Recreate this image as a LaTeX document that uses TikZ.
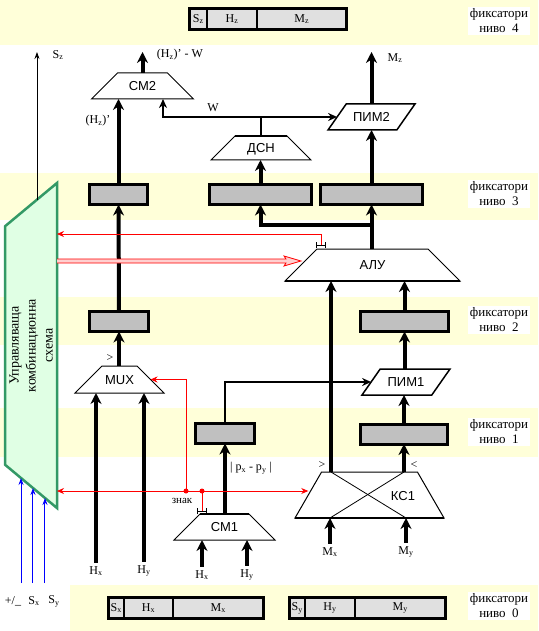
\documentclass[tikz,border=0pt]{standalone}
\usepackage{fontspec}
\setmainfont{Liberation Serif}
\newfontfamily\bezserif{Liberation Sans}
\usepackage{tikz}
\usetikzlibrary{arrows.meta,shapes.geometric,calc,positioning,fit}
\definecolor{pojas}{RGB}{255,255,217}
\definecolor{sivo}{RGB}{192,192,192}
\definecolor{svetlosivo}{RGB}{224,224,224}
\definecolor{zeleno}{RGB}{224,255,228}
\definecolor{zelenoram}{RGB}{51,153,102}
\definecolor{rozovo}{RGB}{255,208,208}
\tikzset{
	every node/.style={
		font=\fontsize{12}{13}\selectfont
	},
	fiksator/.style={
		shape=rectangle,
		draw,
		line width=3pt,
		fill=sivo,
		inner sep=0pt,
		outer sep=0pt,
		minimum height=20pt
	},
	pole/.style={
		shape=rectangle,
		draw,
		line width=1.5pt,
		fill=svetlosivo,
		inner sep=0pt,
		outer sep=0pt,
		minimum height=21pt
	},
	ramka/.style={
		draw,
		line width=3pt,
		inner sep=0pt
	},
	nivo/.style={
		fill=white,
		align=center,
		inner sep=2pt,
		minimum width=60pt,
		font=\fontsize{13}{15}\selectfont
	},
	blok/.style={
		shape=trapezium,
		trapezium left angle=45,
		trapezium right angle=45,
		trapezium stretches body=true,
		draw,
		fill=white,
		line width=1pt,
		inner sep=0pt,
		outer sep=0pt,
		font=\bezserif\fontsize{13}{14}\selectfont
	},
	vis/.style 2 args={
		text height=#1,
		text depth=#2
	},
	pim/.style={
		blok,
		trapezium left angle=55,
		trapezium right angle=125,
		line width=1.5pt
	},
	upravlenie/.style={
		shape=trapezium,
		trapezium left angle=45,
		trapezium right angle=45,
		trapezium stretches body=true,
		rotate=90,
		draw=zelenoram,
		fill=zeleno,
		line width=2.5pt,
		inner sep=0pt,
		outer sep=0pt,
		align=center,
		font=\fontsize{14}{17}\selectfont
	},
	shina/.style={
		-{Stealth[length=11pt,width=11pt]},
		line width=4pt
	},
	vrska/.style={
		-{Stealth[length=9pt,width=8pt]},
		line width=2pt
	},
	tanka/.style={
		-{Stealth[length=7pt,width=5pt]},
		line width=0.8pt
	},
	signal/.style={
		red,
		line width=0.8pt
	},
	vhod/.style={
		blue,
		line width=1pt,
		-{Stealth[length=7pt,width=5pt]}
	},
	znak/.style={
		{Bar[width=6pt]}-{Bar[width=6pt]},
		line width=0.8pt
	}
}

\begin{document}
\begin{tikzpicture}[x=1pt,y=-1pt]
	\path[use as bounding box, fill=white] (0,0) rectangle (538,631);
	\fill[pojas] (0,0) rectangle (538,45);
	\fill[pojas] (0,173) rectangle (538,220);
	\fill[pojas] (0,297) rectangle (538,345);
	\fill[pojas] (0,408) rectangle (538,457);
	\fill[pojas] (70,585) rectangle (538,631);
	
	\node[nivo] (n4) at (499,21) {фиксатори\\ниво~ 4};
	\node[nivo] (n3) at (499,194) {фиксатори\\ниво~ 3};
	\node[nivo] (n2) at (499,320) {фиксатори\\ниво~ 2};
	\node[nivo] (n1) at (499,432) {фиксатори\\ниво~ 1};
	\node[nivo] (n0) at (499,606) {фиксатори\\ниво~ 0};
	
	\node[pole, minimum width=17.5pt] (sz) at (198.25,19) {S\textsubscript{z}};
	\node[pole, minimum width=50pt, right=0pt of sz] (hz) {H\textsubscript{z}};
	\node[pole, minimum width=89.5pt, right=0pt of hz] (mz) {M\textsubscript{z}};
	\node[ramka, fit=(sz)(hz)(mz)] (reg4) {};
	
	\node[pole, minimum width=15.5pt] (sx) at (116.25,608) {S\textsubscript{x}};
	\node[pole, minimum width=49pt, right=0pt of sx] (hx) {H\textsubscript{x}};
	\node[pole, minimum width=90.5pt, right=0pt of hx] (mx) {M\textsubscript{x}};
	\node[ramka, fit=(sx)(hx)(mx)] (reg0x) {};
	\node[pole, minimum width=15.5pt] (sy) at (297.25,608) {S\textsubscript{y}};
	\node[pole, minimum width=50pt, right=0pt of sy] (hy) {H\textsubscript{y}};
	\node[pole, minimum width=90.5pt, right=0pt of hy] (my) {M\textsubscript{y}};
	\node[ramka, fit=(sy)(hy)(my)] (reg0y) {};
	
	\node[fiksator, minimum width=58pt] (regA) at (118.5,194.5) {};
	\node[fiksator, minimum width=102pt] (regB) at (260.5,194.5) {};
	\node[fiksator, minimum width=102pt] (regC) at (371.5,194.5) {};
	\node[fiksator, minimum width=59pt] (regD) at (119,321.5) {};
	\node[fiksator, minimum width=88pt] (regE) at (404.5,321.5) {};
	\node[fiksator, minimum width=59pt] (regF) at (225,433.5) {};
	\node[fiksator, minimum width=87pt] (regG) at (404,434) {};
	
	\node[blok, vis={17.6pt}{8.4pt}, minimum width=102pt] (cm2) at (142.5,86) {СМ2};
	\node[blok, vis={16.6pt}{7.4pt}, minimum width=100pt] (dsn) at (261,148) {ДСН};
	\node[pim, vis={17.6pt}{8.4pt}, minimum width=87pt] (pim2) at (371.5,117) {ПИМ2};
	\node[blok, vis={20.6pt}{11.4pt}, minimum width=175pt] (alu) at (372.5,265) {АЛУ};
	\node[blok, vis={18.1pt}{8.9pt}, minimum width=89pt] (mux) at (119.5,379.5) {MUX};
	\node[pim, vis={17.6pt}{8.4pt}, minimum width=88pt] (pim1) at (406,382) {ПИМ1};
	\node[blok, vis={17.6pt}{8.4pt}, minimum width=101pt] (cm1) at (224.5,527) {СМ1};
	\node[blok, vis={23pt}{23pt}, trapezium left angle=60, trapezium right angle=60, minimum width=149pt] (ks) at (369.5,495) {};
	\node (kst) at (403,496) {\bezserif\fontsize{13}{14}\selectfont КС1};
	\draw[line width=2.5pt] (alu.bottom left corner) -- (alu.bottom right corner);
	\draw[line width=2.5pt] (ks.bottom left corner) -- (ks.bottom right corner);
	\draw[line width=2.5pt] (cm1.top left corner) -- (cm1.top right corner);
	\draw[line width=2.5pt] (dsn.top left corner) -- (dsn.top right corner);
	
	\node[upravlenie, minimum width=325pt, minimum height=52pt] (upr) at (31,345.5) {Управляваща\\комбинационна\\схема};
	
	\node (lhx1) at (96,571) {H\textsubscript{x}};
	\node (lhy1) at (144,571) {H\textsubscript{y}};
	\node (lhx2) at (202,575) {H\textsubscript{x}};
	\node (lhy2) at (247,575) {H\textsubscript{y}};
	\node (lmx) at (330,552) {M\textsubscript{x}};
	\node (lmy) at (406,552) {M\textsubscript{y}};
	\node (lpm) at (13,601) {+/\_};
	\node (lsx) at (34,601) {S\textsubscript{x}};
	\node (lsy) at (54,601) {S\textsubscript{y}};
	\node (lsz) at (58,55) {S\textsubscript{z}};
	\node (lraz) at (180,55) {(H\textsubscript{z})' - W};
	\node (lhzp) at (98,121) {(H\textsubscript{z})'};
	\node (lw) at (213,108) {W};
	\node (lmz) at (395,58) {M\textsubscript{z}};
	\node (lmuxv) at (110,358) {>};
	\node (lksv) at (322,465) {>};
	\node (lksm) at (414,465) {<};
	\node (lpp) at (251,468) {| p\textsubscript{x} - p\textsubscript{y} |};
	
	\draw[shina] (lhx1.north) -- (lhx1.north |- mux.south);
	\draw[shina] (lhy1.north) -- (lhy1.north |- mux.south);
	\draw[shina] (regD.south |- mux.north) -- (regD.south);
	\draw[shina] (regD.north) -- (regA.south);
	\draw[shina] (regA.north) -- (regA.north |- cm2.south);
	\coordinate (cm2out) at ($(cm2.north)+(0,-21)$);
	\draw[shina] (cm2.north) -- (cm2out);
	
	\coordinate (wt) at ($(dsn.north)+(0,-19)$);
	\draw[vrska] (dsn.north) -- (wt) -| ($(cm2.south)+(20.5,0)$);
	\draw[vrska] (wt) -- (wt -| pim2.west);
	\draw[shina] (regB.north) -- (regB.north |- dsn.south);
	\draw[shina] (regC.north) -- (regC.north |- pim2.south);
	\draw[shina] (pim2.north) -- (pim2.north |- cm2out);
	
	\draw[shina] (regC.south |- alu.north) -- (regC.south);
	\coordinate (razkl) at ($(regC.south)+(0,20)$);
	\draw[shina] (razkl) -| (regB.south);
	
	\coordinate (ksl) at ($(ks.north)+(-38.5,0)$);
	\draw[shina] (ksl) -- (alu.south -| ksl);
	\draw[shina] (ks.north -| regG.south) -- (regG.south);
	\draw[shina] (regG.north) -- (regG.north |- pim1.south);
	\draw[shina] (regE.south |- pim1.north) -- (regE.south);
	\draw[shina] (regE.north) -- (regE.north |- alu.south);
	\draw[line width=0.8pt] (ksl) -- (ks.south -| lmy.north);
	\draw[line width=0.8pt] (ks.north -| regG.south) -- (ks.south -| lmx.north);
	\draw[shina] (lmx.north) -- (lmx.north |- ks.south);
	\draw[shina] (lmy.north) -- (lmy.north |- ks.south);
	
	\draw[vrska] (regF.north) |- (pim1.west);
	\draw[shina] (regF.south |- cm1.north) -- (regF.south);
	\draw[shina] (lhx2.north) -- (lhx2.north |- cm1.south);
	\draw[shina] (lhy2.north) -- (lhy2.north |- cm1.south);
	
	\coordinate (szd) at ($(upr.bottom right corner)!0.385!(upr.top right corner)$);
	\draw[tanka] (szd) -- (szd |- cm2out);
	
	\coordinate (dolu) at (0,583);
	\coordinate (b1) at ($(upr.top left corner)!0.308!(upr.bottom left corner)$);
	\coordinate (b2) at ($(upr.top left corner)!0.538!(upr.bottom left corner)$);
	\coordinate (b3) at ($(upr.top left corner)!0.769!(upr.bottom left corner)$);
	\draw[vhod] (b1 |- dolu) -- (b1);
	\draw[vhod] (b2 |- dolu) -- (b2);
	\draw[vhod] (b3 |- dolu) -- (b3);
	
	\coordinate (aluznak) at ($(alu.top left corner)+(4,-4)$);
	\coordinate (r1) at ($(aluznak)+(0,-11)$);
	\draw[signal, -{Stealth[length=7pt,width=6pt]}] (aluznak) -- (r1) -- (r1 -| upr.south);
	\draw[znak] ($(aluznak)+(-5,0)$) -- ($(aluznak)+(5,0)$);
	
	\coordinate (dvk) at ($(alu.west)+(0,-4)$);
	\coordinate (dvp) at (upr.south |- dvk);
	\fill[rozovo] ($(dvp)+(0,-2)$) -- ($(dvk)+(-15,-2)$) -- ($(dvk)+(-17,-5)$) -- (dvk) -- ($(dvk)+(-17,5)$) -- ($(dvk)+(-15,2)$) -- ($(dvp)+(0,2)$) -- cycle;
	\draw[signal] ($(dvp)+(0,-2)$) -- ($(dvk)+(-15,-2)$) -- ($(dvk)+(-17,-5)$) -- (dvk) -- ($(dvk)+(-17,5)$) -- ($(dvk)+(-15,2)$) -- ($(dvp)+(0,2)$);
	
	\coordinate (cm1znak) at ($(cm1.top left corner)+(2,-3)$);
	\coordinate (t2) at ($(cm1znak)+(0,-20)$);
	\coordinate (t1) at ($(t2)+(-16,0)$);
	\draw[signal] (cm1znak) -- (t2);
	\draw[signal, -{Stealth[length=7pt,width=6pt]}] (t2) -- (t2 -| upr.south);
	\draw[signal, -{Stealth[length=7pt,width=6pt]}] (t2) -- (t2 -| ks.west);
	\draw[signal, -{Stealth[length=7pt,width=6pt]}] (t1) |- (mux.east);
	\fill[red] (t1) circle (2.5);
	\fill[red] (t2) circle (2.5);
	\draw[znak] ($(cm1znak)+(-5,0)$) -- ($(cm1znak)+(5,0)$);
	\node[font=\fontsize{11}{12}\selectfont] (lznak) at ($(t1)+(-4,10)$) {знак};
\end{tikzpicture}
\end{document}
